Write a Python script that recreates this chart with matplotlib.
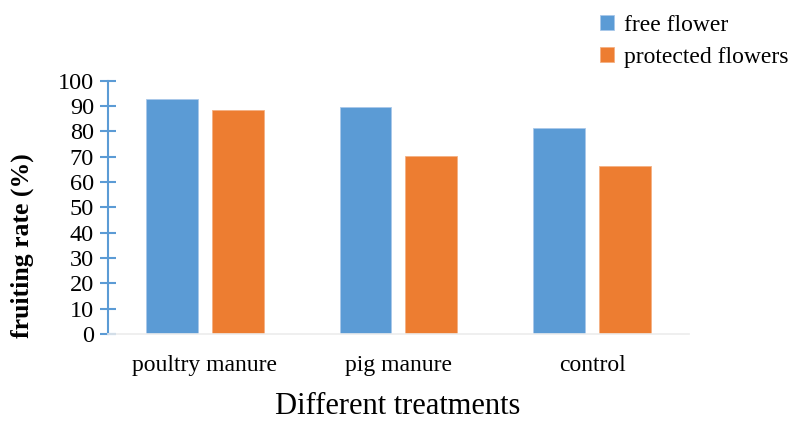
import matplotlib.pyplot as plt
import numpy as np

# Fruiting rate by manure treatment
treatments = ['poultry manure', 'pig manure', 'control']
free_flower = [92.8, 89.5, 81.2]
protected_flowers = [88.6, 70.3, 66.4]

blue = '#5B9BD5'
orange = '#ED7D31'

plt.rcParams['font.family'] = ['Liberation Serif', 'DejaVu Serif']

fig = plt.figure(figsize=(7.95, 4.23), dpi=100)
ax = fig.add_axes([0.1358, 0.2104, 0.7308, 0.5986])

x = np.arange(len(treatments))
w = 0.268
off = 0.170
ax.bar(x - off, free_flower, w, color=blue, edgecolor='#a9c8ea', linewidth=0.6,
       label='free flower')
ax.bar(x + off, protected_flowers, w, color=orange, edgecolor='#f4b183', linewidth=0.6,
       label='protected flowers')

ax.set_xlim(-0.5, 2.5)
ax.set_ylim(0, 100)
ax.set_yticks(range(0, 101, 10))
ax.set_xticks(x)
ax.set_xticklabels(treatments, fontsize=17)
ax.tick_params(axis='y', direction='inout', length=12, width=1.5, color=blue,
               labelsize=17.5, pad=4)
ax.tick_params(axis='x', length=0, pad=15)

for s in ['top', 'right']:
    ax.spines[s].set_visible(False)
ax.spines['left'].set_color(blue)
ax.spines['left'].set_linewidth(1.5)
ax.spines['bottom'].set_color('#ececec')
ax.spines['bottom'].set_linewidth(1.2)

fig.text(22 / 795, 1 - 246 / 423, 'fruiting rate (%)', rotation=90,
         ha='center', va='center', fontsize=18.5, fontweight='bold')
fig.text(398 / 795, 1 - 406 / 423, 'Different treatments', ha='center',
         va='center', fontsize=22)

fig.legend(loc='upper left', bbox_to_anchor=(600 / 795, 1 - 15 / 423), frameon=False,
           fontsize=17, handlelength=0.6, handleheight=0.6, handletextpad=0.4,
           labelspacing=0.45, borderpad=0, borderaxespad=0)

fig.savefig('out.png', dpi=100)
